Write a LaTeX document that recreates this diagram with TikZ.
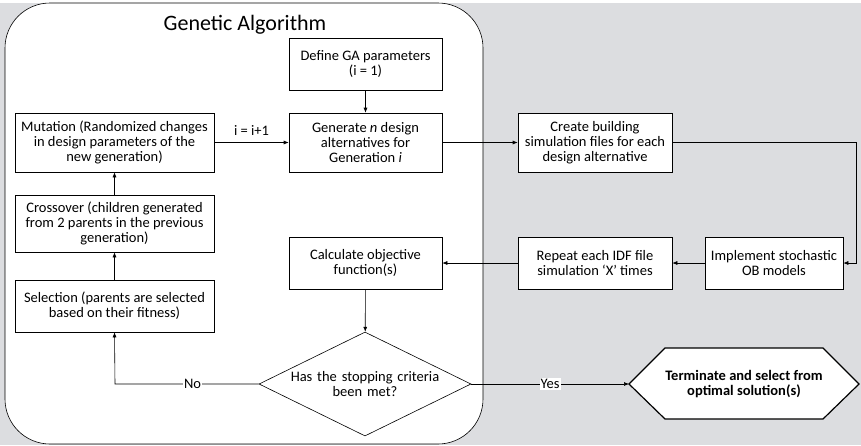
\documentclass[tikz,border=0pt]{standalone}
\usepackage{fontspec}
\setmainfont{Carlito}
\usetikzlibrary{arrows.meta,shapes.geometric}
\definecolor{bgray}{RGB}{220,221,224}
\begin{document}
\begin{tikzpicture}[x=1pt,y=-1pt,
  font=\fontsize{14.5}{15}\selectfont,
  box/.style={draw, line width=0.6pt, fill=white, align=center, inner sep=0pt},
  dia/.style={draw, line width=0.6pt, fill=white, diamond, aspect=2.04, inner sep=0pt, align=center, minimum width=212pt, minimum height=104pt, text width=150pt},
  arr/.style={line width=0.6pt, -{Latex[length=5pt,width=4pt]}},
  lbl/.style={fill=white, inner sep=1pt}]
\useasboundingbox (0,0) rectangle (861,445);
\fill[bgray] (0,3) rectangle (861,445);
\draw[line width=0.6pt, fill=white, rounded corners=45pt] (5,3) rectangle (483,444);
\node (title) at (245,25) {\fontsize{22}{24}\selectfont Genetic Algorithm};

\node[box, minimum width=153pt, minimum height=52pt] (define) at (365.5,64) {Define GA parameters\\(i = 1)};
\node[box, minimum width=153pt, minimum height=59pt] (gen) at (365.5,142.5) {Generate \textit{n} design\\alternatives for\\Generation \textit{i}};
\node[box, minimum width=199pt, minimum height=59pt] (mut) at (114.5,142.5) {Mutation (Randomized changes\\in design parameters of the\\new generation)};
\node[box, minimum width=199pt, minimum height=57pt] (cross) at (114.5,223.5) {Crossover (children generated\\from 2 parents in the previous\\generation)};
\node[box, minimum width=199pt, minimum height=52pt] (sel) at (114.5,306) {Selection (parents are selected\\based on their fitness)};
\node[box, minimum width=153pt, minimum height=52pt] (calc) at (365.5,263) {Calculate objective\\function(s)};
\node[box, minimum width=154pt, minimum height=59pt] (create) at (595,142.5) {Create building\\simulation files for each\\design alternative};
\node[box, minimum width=154pt, minimum height=52pt] (rep) at (595,263) {Repeat each IDF file\\simulation `X' times};
\node[box, minimum width=138pt, minimum height=52pt] (impl) at (774,263) {Implement stochastic\\OB models};
\node[dia] (stop) at (365,384) {Has the stopping criteria\\been met?};

\coordinate (termW) at (629,384);
\draw[line width=1.2pt, fill=white] (termW) -- (665,348) -- (823,348) -- (859,384) -- (823,419) -- (665,419) -- cycle;
\node[align=center, font=\fontsize{14.5}{15}\selectfont\bfseries] (term) at (744,384) {Terminate and select from\\optimal solution(s)};

\draw[arr] (define) -- (gen);
\draw[arr] (mut) -- node[above=3pt, fill=none] (ilbl) {i = i+1} (gen);
\draw[arr] (gen) -- (create);
\coordinate (cr) at (856,142.5);
\draw[arr] (create.east) -- (cr) |- (impl.east);
\draw[arr] (impl) -- (rep);
\draw[arr] (rep) -- (calc);
\draw[arr] (calc) -- (stop);
\draw[arr] (stop.west) -- node[lbl, pos=0.46] (no) {No} (115,384) -- (sel.south);
\draw[arr] (sel) -- (cross);
\draw[arr] (cross) -- (mut);
\draw[arr] (stop.east) -- node[lbl, pos=0.5] (yes) {Yes} (termW);
\end{tikzpicture}
\end{document}
